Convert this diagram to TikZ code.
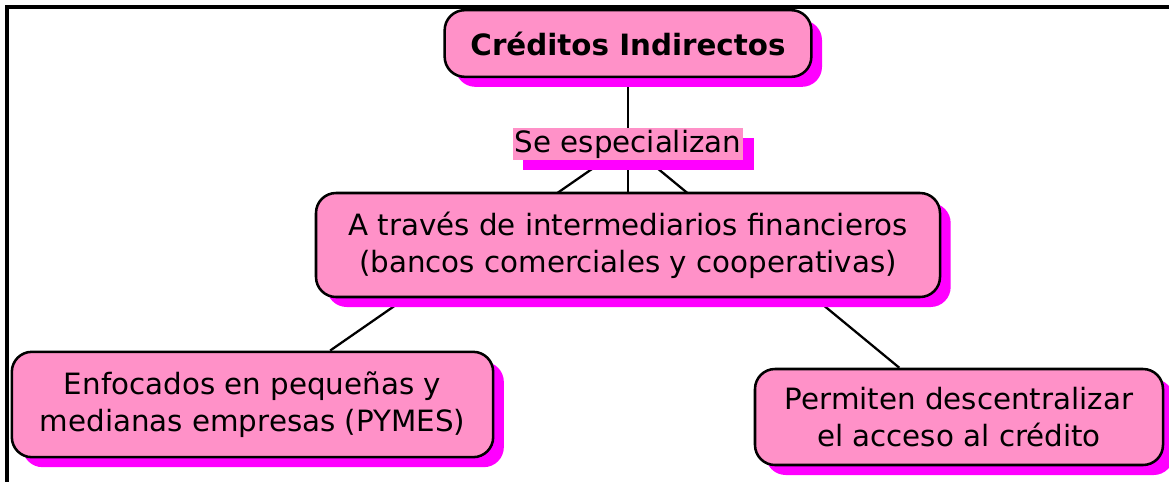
\documentclass[tikz,border=0pt]{standalone}
\usepackage{fontspec}
\setmainfont{DejaVu Sans}
\usetikzlibrary{shadows,backgrounds}

\definecolor{conceptpink}{RGB}{255,145,200}
\definecolor{shadowmagenta}{RGB}{255,0,255}

\tikzset{every picture/.style={line width=0.75pt}}
\tikzset{
  pinkshadow/.style={drop shadow={shadow xshift=8pt,shadow yshift=-7.5pt,fill=shadowmagenta,opacity=1}},
  concept/.style={draw=black,line width=1.9pt,rounded corners=15pt,fill=conceptpink,
    align=center,inner sep=0pt,font=\fontsize{22}{28}\selectfont,pinkshadow},
  linkphrase/.style={fill=conceptpink,inner sep=0pt,font=\fontsize{22}{28}\selectfont,pinkshadow},
  connector/.style={line width=1.7pt}
}

\begin{document}
\begin{tikzpicture}[x=0.75pt,y=0.75pt,yscale=-1,xscale=1]
\useasboundingbox (0,0) rectangle (1169,482);

% Frame
\draw [line width=2.4pt] (1169,7) -- (7,7) -- (7,482) ;

% Text Node
\node [concept,minimum width=275pt,minimum height=50pt] (credind) at (628,43.5) {\bfseries Créditos Indirectos};
% Text Node
\node [linkphrase,minimum width=173pt,minimum height=24pt] (especializan) at (628,144) {Se especializan};
% Text Node
\node [concept,minimum width=468pt,minimum height=78pt] (intermed) at (628,245) {A través de intermediarios financieros\\ (bancos comerciales y cooperativas)};
% Text Node
\node [concept,minimum width=361pt,minimum height=79pt] (pymes) at (252.5,404.5) {Enfocados en pequeñas y\\medianas empresas (PYMES)};
% Text Node
\node [concept,minimum width=306pt,minimum height=72pt] (descentral) at (959,417) {Permiten descentralizar\\el acceso al crédito};

% Straight Lines
\begin{scope}[on background layer]
\draw [connector] (credind) -- (especializan) ;
\draw [connector] (especializan) -- (intermed) ;
\draw [connector] (especializan) -- (pymes) ;
\draw [connector] (especializan) -- (descentral) ;
\end{scope}

\end{tikzpicture}
\end{document}
